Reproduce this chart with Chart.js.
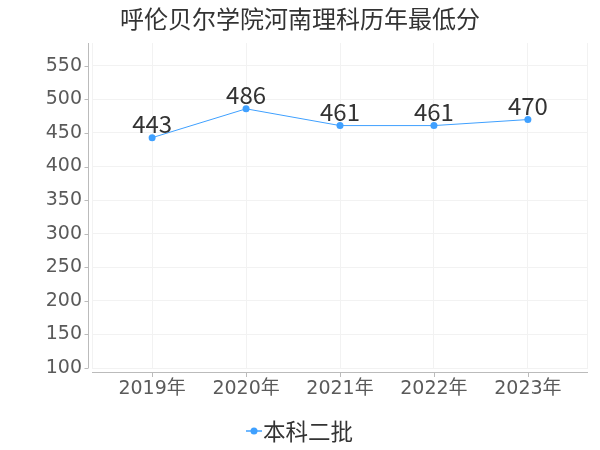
<!DOCTYPE html>
<html>
<head>
<meta charset="utf-8">
<script src="https://cdn.jsdelivr.net/npm/chart.js@4/dist/chart.umd.min.js"></script>
<style>
html,body{margin:0;padding:0;background:#fff;}
#wrap{width:600px;height:450px;position:relative;}
</style>
</head>
<body>
<div id="wrap"><canvas id="c" width="600" height="450"></canvas></div>
<script>
const titleText = "呼伦贝尔学院河南理科历年最低分";
const categories = ["2019年", "2020年", "2021年", "2022年", "2023年"];
const seriesName = "本科二批";
const seriesValues = [443, 486, 461, 461, 470];
const yTicks = [100, 150, 200, 250, 300, 350, 400, 450, 500, 550];

const lineColor = "#3FA0FF";
const axisColor = "#bbbbbb";
const gridColor = "#f2f2f2";
const fontFam = "'DejaVu Sans', 'Noto Sans CJK SC', sans-serif";
const cjkFam = "'Noto Sans CJK SC', 'DejaVu Sans', sans-serif";

const decorPlugin = {
  id: 'decor',
  beforeDatasetsDraw(chart) {
    const ctx = chart.ctx;
    const ca = chart.chartArea;
    ctx.save();
    ctx.strokeStyle = gridColor;
    ctx.lineWidth = 1;
    ctx.beginPath();
    ctx.moveTo(ca.left + 0.5, ca.top);
    ctx.lineTo(ca.left + 0.5, ca.bottom);
    ctx.moveTo(ca.right - 0.5, ca.top);
    ctx.lineTo(ca.right - 0.5, ca.bottom);
    ctx.stroke();
    ctx.restore();
  },
  afterDraw(chart) {
    const ctx = chart.ctx;
    const ca = chart.chartArea;
    const xs = chart.scales.x;
    const ys = chart.scales.y;
    ctx.save();
    // title
    ctx.font = "24px " + cjkFam;
    ctx.fillStyle = "#333";
    ctx.textAlign = "center";
    ctx.textBaseline = "middle";
    ctx.fillText(titleText, 300, 19);
    // y axis line (offset from x axis)
    ctx.strokeStyle = axisColor;
    ctx.lineWidth = 1;
    const ax = ca.left - 4 + 0.5;
    ctx.beginPath();
    ctx.moveTo(ax, ca.top);
    ctx.lineTo(ax, ca.bottom);
    ctx.stroke();
    // y tick marks
    yTicks.forEach(v => {
      const py = Math.round(ys.getPixelForValue(v)) + 0.5;
      ctx.beginPath();
      ctx.moveTo(ax - 4, py);
      ctx.lineTo(ax, py);
      ctx.stroke();
    });
    // x axis line
    ctx.beginPath();
    ctx.moveTo(ca.left, ca.bottom + 4 + 0.5);
    ctx.lineTo(ca.right, ca.bottom + 4 + 0.5);
    ctx.stroke();
    // x tick marks
    categories.forEach((c, i) => {
      const px = Math.round(xs.getPixelForValue(i)) + 0.5;
      ctx.beginPath();
      ctx.moveTo(px, ca.bottom + 4);
      ctx.lineTo(px, ca.bottom + 9);
      ctx.stroke();
    });
    // legend
    const lx = 246, ly = 431;
    ctx.strokeStyle = lineColor;
    ctx.lineWidth = 1.5;
    ctx.beginPath();
    ctx.moveTo(lx, ly); ctx.lineTo(lx + 16, ly);
    ctx.stroke();
    ctx.fillStyle = lineColor;
    ctx.beginPath();
    ctx.arc(lx + 8, ly, 3.5, 0, Math.PI * 2);
    ctx.fill();
    ctx.font = "22.5px " + cjkFam;
    ctx.fillStyle = "#333";
    ctx.textAlign = "left";
    ctx.textBaseline = "middle";
    ctx.fillText(seriesName, lx + 17, ly);
    ctx.restore();
  },
  afterDatasetsDraw(chart) {
    const ctx = chart.ctx;
    const meta = chart.getDatasetMeta(0);
    ctx.save();
    ctx.font = "24px " + cjkFam;
    ctx.fillStyle = "#333";
    ctx.textAlign = "center";
    ctx.textBaseline = "alphabetic";
    meta.data.forEach((pt, i) => {
      ctx.fillText(String(seriesValues[i]), pt.x, pt.y - 5);
    });
    ctx.restore();
  }
};

new Chart(document.getElementById('c'), {
  type: 'line',
  data: {
    datasets: [{
      label: seriesName,
      data: seriesValues.map((v, i) => ({x: i, y: v})),
      borderColor: lineColor,
      backgroundColor: lineColor,
      borderWidth: 1,
      pointRadius: 3.5,
      pointHoverRadius: 3.5,
      pointBackgroundColor: lineColor,
      pointBorderWidth: 0,
      tension: 0,
      fill: false
    }]
  },
  options: {
    responsive: false,
    animation: false,
    devicePixelRatio: 1,
    layout: { padding: { top: 43, right: 12, left: 0, bottom: 0 } },
    plugins: {
      title: { display: false },
      tooltip: { enabled: false },
      legend: { display: false }
    },
    scales: {
      x: {
        type: 'linear',
        min: -0.64,
        max: 4.64,
        ticks: {
          stepSize: 1,
          includeBounds: false,
          autoSkip: false,
          maxRotation: 0,
          color: '#5a5a5a',
          font: { size: 19, family: fontFam },
          padding: 10,
          callback: (v) => Number.isInteger(v) ? categories[v] : ''
        },
        afterBuildTicks(scale) {
          scale.ticks = categories.map((c, i) => ({ value: i }));
        },
        afterFit(scale) { scale.height = 82; },
        grid: {
          color: gridColor,
          drawTicks: false
        },
        border: { display: false }
      },
      y: {
        min: 100,
        max: 584,
        ticks: {
          stepSize: 50,
          includeBounds: false,
          color: '#5a5a5a',
          font: { size: 19, family: fontFam },
          padding: 10
        },
        afterBuildTicks(scale) {
          scale.ticks = yTicks.map(v => ({ value: v }));
        },
        afterFit(scale) { scale.width = 92; },
        grid: {
          color: gridColor,
          drawTicks: false
        },
        border: { display: false }
      }
    }
  },
  plugins: [decorPlugin]
});
</script>
</body>
</html>
